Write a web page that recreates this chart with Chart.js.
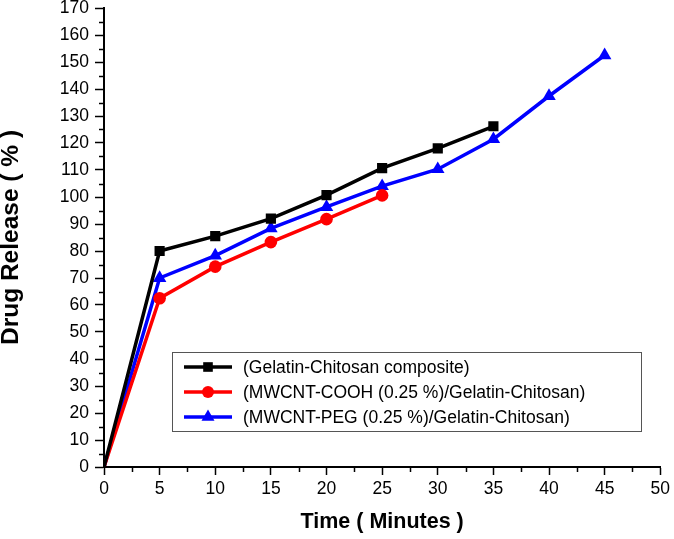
<!DOCTYPE html>
<html><head><meta charset="utf-8">
<script src="https://cdn.jsdelivr.net/npm/chart.js@4/dist/chart.umd.min.js"></script>
<style>html,body{margin:0;padding:0;background:#fff}#wrap{width:674px;height:539px;position:relative}</style>
</head><body><div id="wrap"><canvas id="c" width="674" height="539"></canvas></div>
<script>
const timeMin = [0, 5, 10, 15, 20, 25, 30, 35, 40, 45];
const gelatinChitosan = [0, 80, 85.5, 92, 100.7, 110.7, 118, 126.2];
const mwcntCooh = [0, 62.5, 74.2, 83.3, 91.8, 100.6];
const mwcntPeg = [0, 70, 78.3, 88.4, 96.3, 104, 110.3, 121.4, 137.4, 152.5];
const seriesNames = ['(Gelatin-Chitosan composite)', '(MWCNT-COOH (0.25 %)/Gelatin-Chitosan)', '(MWCNT-PEG (0.25 %)/Gelatin-Chitosan)'];
const xTitle = 'Time ( Minutes )';
const yTitle = 'Drug Release ( % )';

const FONT = "'Liberation Sans', Arial, sans-serif";
function pts(vals){ return vals.map((v,i)=>({x: timeMin[i], y: v})); }
const rad = (r)=> (ctx)=> ctx.dataIndex === 0 ? 0 : r;

const minorTicks = {
  id: 'minorTicks',
  afterDraw(chart){
    const ctx = chart.ctx, xs = chart.scales.x, ys = chart.scales.y;
    ctx.save(); ctx.strokeStyle = '#000'; ctx.lineWidth = 1.5;
    for (let v = 5; v < 170; v += 10){
      const y = Math.round(ys.getPixelForValue(v)) + 0.5;
      ctx.beginPath(); ctx.moveTo(ys.right - 5, y); ctx.lineTo(ys.right, y); ctx.stroke();
    }
    for (let v = 2.5; v < 50; v += 5){
      const x = Math.round(xs.getPixelForValue(v)) + 0.5;
      ctx.beginPath(); ctx.moveTo(x, xs.top); ctx.lineTo(x, xs.top + 5); ctx.stroke();
    }
    ctx.restore();
  }
};

const boxLegend = {
  id: 'boxLegend',
  afterDraw(chart){
    const ctx = chart.ctx;
    const left = 172, top = 352, w = 469, h = 79;
    ctx.save();
    ctx.fillStyle = '#fff'; ctx.fillRect(left, top, w, h);
    ctx.strokeStyle = '#555'; ctx.lineWidth = 1; ctx.strokeRect(left + 0.5, top + 0.5, w, h);
    chart.data.datasets.forEach((ds, i) => {
      const y = 367 + i * 25;
      ctx.strokeStyle = ds.borderColor; ctx.lineWidth = 3.5;
      ctx.beginPath(); ctx.moveTo(184, y); ctx.lineTo(232, y); ctx.stroke();
      ctx.fillStyle = ds.backgroundColor;
      Chart.helpers.drawPoint(ctx, {pointStyle: ds.pointStyle, radius: ds.legendRadius, borderWidth: 0}, 208, y);
      ctx.fillStyle = '#000'; ctx.font = '17.5px ' + FONT; ctx.textBaseline = 'middle'; ctx.textAlign = 'left';
      ctx.fillText(ds.label, 243, y + 1);
    });
    ctx.restore();
  }
};

new Chart(document.getElementById('c'), {
  type: 'line',
  data: {
    datasets: [
      {label: seriesNames[0], data: pts(gelatinChitosan), borderColor: '#000', backgroundColor: '#000', pointStyle: 'rect', pointRadius: rad(7.2), legendRadius: 6.8, borderWidth: 3.5, pointBorderWidth: 0},
      {label: seriesNames[1], data: pts(mwcntCooh), borderColor: '#ff0000', backgroundColor: '#ff0000', pointStyle: 'circle', pointRadius: rad(6.3), legendRadius: 6, borderWidth: 3.5, pointBorderWidth: 0},
      {label: seriesNames[2], data: pts(mwcntPeg), borderColor: '#0000ff', backgroundColor: '#0000ff', pointStyle: 'triangle', pointRadius: rad(7.8), legendRadius: 7.5, borderWidth: 3.5, pointBorderWidth: 0}
    ]
  },
  options: {
    responsive: false, animation: false, devicePixelRatio: 1,
    layout: {padding: {top: 0, right: 12, left: 0, bottom: 0}},
    plugins: {legend: {display: false}, tooltip: {enabled: false}},
    elements: {line: {tension: 0}},
    scales: {
      x: {
        type: 'linear', min: 0, max: 50,
        afterFit(s){ s.height = 72; },
        border: {display: true, color: '#000', width: 2},
        grid: {drawOnChartArea: false, drawTicks: true, tickLength: 8, color: '#000', tickWidth: 1.5},
        ticks: {stepSize: 5, color: '#000', font: {family: FONT, size: 17.5}, padding: 4, maxRotation: 0},
        title: {display: true, text: xTitle, color: '#000', font: {family: FONT, size: 21.5, weight: 'bold'}, padding: {top: 12}}
      },
      y: {
        type: 'linear', min: 0, max: 170,
        afterFit(s){ s.width = 104; s.paddingTop = 8; s.paddingBottom = 0; },
        border: {display: true, color: '#000', width: 2},
        grid: {drawOnChartArea: false, drawTicks: true, tickLength: 9, color: '#000', tickWidth: 1.5},
        ticks: {stepSize: 10, color: '#000', font: {family: FONT, size: 17.5}, padding: 6},
        title: {display: true, text: yTitle, color: '#000', font: {family: FONT, size: 24.5, weight: 'bold', lineHeight: 0.9}, padding: {top: 0, bottom: 0}}
      }
    }
  },
  plugins: [minorTicks, boxLegend]
});
</script></body></html>
